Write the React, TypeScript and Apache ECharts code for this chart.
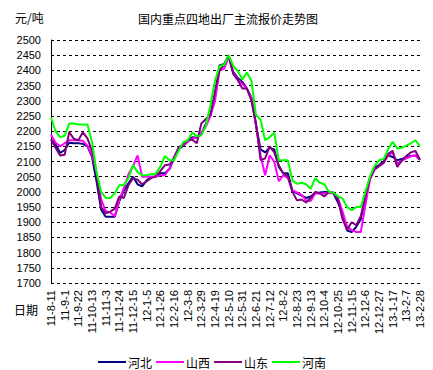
import React, { useEffect, useRef } from "react";
import * as echarts from "echarts";

// Weekly dates from 2011-08-11 to 2013-02-28 (82 weeks)
const START_DATE = Date.UTC(2011, 7, 11);
const WEEKS = 82;
const categories: string[] = [];
for (let i = 0; i < WEEKS; i++) {
  const d = new Date(START_DATE + i * 7 * 86400000);
  categories.push(
    `${String(d.getUTCFullYear()).slice(2)}-${d.getUTCMonth() + 1}-${d.getUTCDate()}`
  );
}

const hebei = [
  2172, 2157, 2128, 2138, 2162, 2160, 2160, 2158, 2150, 2115,
  2035, 1942, 1918, 1918, 1918, 1970, 2005, 2028, 2050, 2025,
  2018, 2038, 2050, 2050, 2061, 2061, 2075, 2110, 2140, 2152,
  2165, 2180, 2178, 2190, 2225, 2252, 2320, 2417, 2420, 2448,
  2395, 2375, 2362, 2340, 2310, 2220, 2140, 2130, 2145, 2140,
  2082, 2061, 2061, 2003, 1995, 1988, 1980, 1985, 1997, 1998,
  2000, 2000, 1995, 1965, 1928, 1873, 1868, 1885, 1910, 1980,
  2045, 2080, 2088, 2100, 2120, 2115, 2104, 2108, 2114, 2118,
  2120, 2106,
];

const shanxi = [
  2188, 2162, 2150, 2160, 2170, 2170, 2170, 2168, 2152, 2120,
  2064, 1975, 1937, 1932, 1920, 1975, 2012, 2058, 2085, 2120,
  2050, 2050, 2050, 2050, 2055, 2055, 2078, 2115, 2145, 2155,
  2165, 2175, 2180, 2195, 2215, 2250, 2300, 2400, 2405, 2445,
  2393, 2370, 2355, 2340, 2310, 2220, 2120, 2055, 2120, 2100,
  2035, 2055, 2045, 2005, 1998, 1990, 1972, 1970, 1995, 1995,
  1995, 1997, 1995, 1980, 1935, 1885, 1875, 1868, 1868, 1955,
  2040, 2072, 2085, 2095, 2120, 2130, 2093, 2103, 2110, 2117,
  2120, 2106,
];

const shandong = [
  2172, 2145, 2120, 2122, 2197, 2175, 2170, 2196, 2176, 2135,
  2060, 1950, 1929, 1935, 1945, 1985, 1980, 2022, 2045, 2040,
  2025, 2035, 2045, 2052, 2068, 2088, 2090, 2110, 2145, 2158,
  2170, 2172, 2160, 2225, 2240, 2255, 2330, 2400, 2418, 2450,
  2388, 2368, 2340, 2340, 2300, 2225, 2105, 2110, 2150, 2130,
  2088, 2060, 2052, 2000, 1972, 1975, 1965, 1980, 2000, 1995,
  1985, 2000, 1998, 1975, 1910, 1875, 1900, 1890, 1920, 1985,
  2045, 2075, 2085, 2095, 2125, 2135, 2082, 2103, 2118, 2130,
  2135, 2106,
];

const henan = [
  2245, 2200, 2180, 2185, 2225, 2225, 2222, 2222, 2222, 2165,
  2065, 2000, 1980, 1980, 1995, 2022, 2022, 2045, 2088, 2065,
  2055, 2055, 2058, 2060, 2083, 2118, 2104, 2104, 2135, 2163,
  2170, 2195, 2183, 2186, 2218, 2285, 2365, 2415, 2418, 2450,
  2415, 2398, 2370, 2393, 2365, 2252, 2238, 2170, 2180, 2195,
  2104, 2104, 2104, 2037, 2027, 2030, 2025, 2010, 2045, 2030,
  2025, 2000, 1998, 1985, 1978, 1950, 1940, 1950, 1950, 2000,
  2050, 2085, 2104, 2108, 2140, 2165, 2143, 2145, 2152, 2160,
  2170, 2150,
];

const seriesNames = ["河北", "山西", "山东", "河南"];
const seriesColors = ["#000080", "#FF00FF", "#800080", "#00FF00"];
const seriesData = [hebei, shanxi, shandong, henan];

const NUM_FONT = "'Liberation Sans', Arial, sans-serif";
const CJK_FONT = "'Noto Sans CJK SC', sans-serif";

export default function App() {
  const ref = useRef<HTMLDivElement>(null);
  useEffect(() => {
    if (!ref.current) return;
    const chart = echarts.init(ref.current, undefined, { renderer: "svg" });
    chart.setOption({
      animation: false,
      backgroundColor: "#ffffff",
      title: {
        text: "国内重点四地出厂主流报价走势图",
        left: 223,
        textAlign: "center",
        top: 7,
        textStyle: { fontSize: 12, fontWeight: "normal", color: "#000", fontFamily: CJK_FONT },
      },
      graphic: [
        {
          type: "text",
          left: 15,
          top: 11,
          style: { text: "元/吨", fontSize: 12, fill: "#000", fontFamily: CJK_FONT },
        },
        {
          type: "text",
          left: 14,
          top: 303,
          style: { text: "日期", fontSize: 12, fill: "#000", fontFamily: CJK_FONT },
        },
      ],
      legend: {
        left: 93,
        top: 351,
        itemGap: 4,
        itemWidth: 28,
        itemHeight: 2,
        icon: "rect",
        data: seriesNames,
        textStyle: { fontSize: 12, color: "#000", fontFamily: CJK_FONT, padding: [0, 0, 0, -3] },
      },
      grid: { left: 51, right: 13, top: 40, bottom: 87, containLabel: false },
      xAxis: {
        type: "category",
        data: categories,
        boundaryGap: false,
        axisLine: { show: false },
        axisTick: { show: false },
        splitLine: { show: false },
        axisLabel: {
          interval: 2,
          rotate: 90,
          margin: 7,
          fontSize: 11,
          color: "#000",
          fontFamily: NUM_FONT,
        },
      },
      yAxis: {
        type: "value",
        min: 1700,
        max: 2500,
        interval: 50,
        axisLine: { show: true, lineStyle: { color: "#000", width: 1 } },
        axisTick: { show: false },
        axisLabel: {
          fontSize: 11,
          color: "#000",
          margin: 10,
          fontFamily: NUM_FONT,
          formatter: (v: number) => String(v),
        },
        splitLine: { show: true, lineStyle: { color: "#000", width: 1, type: [3, 3] } },
      },
      series: seriesNames.map((name, k) => ({
        name,
        type: "line",
        data: seriesData[k],
        showSymbol: false,
        symbol: "none",
        lineStyle: { color: seriesColors[k], width: 2 },
        itemStyle: { color: seriesColors[k] },
      })),
    });
    return () => chart.dispose();
  }, []);
  return (
    <div
      ref={ref}
      style={{ position: "fixed", left: 0, top: 0, width: 433, height: 370 }}
    />
  );
}
